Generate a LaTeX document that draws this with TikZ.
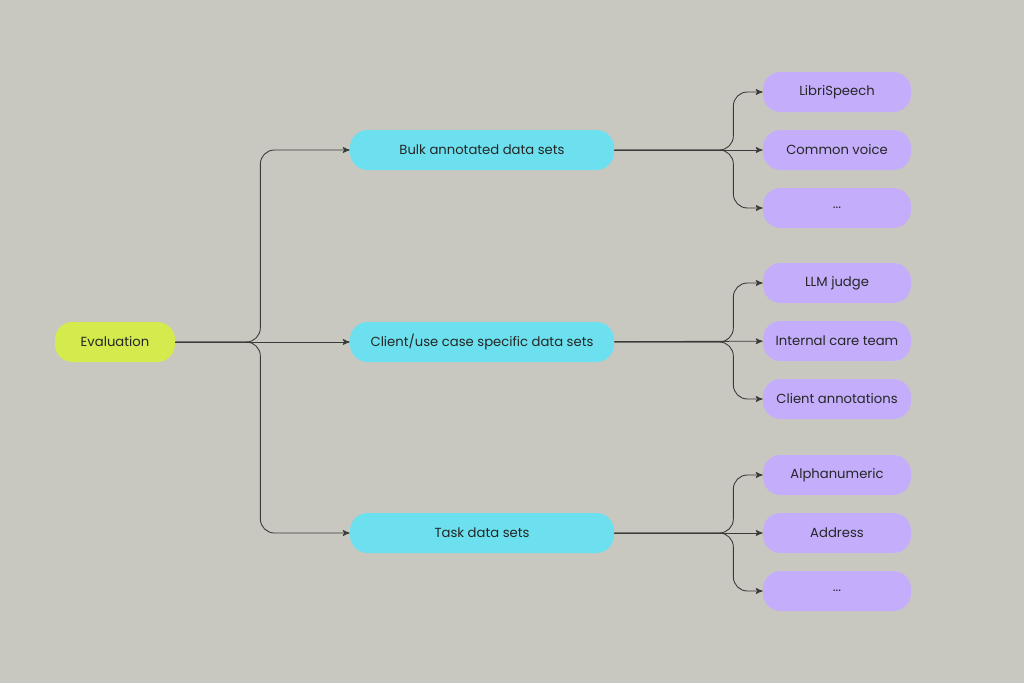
\documentclass[tikz,border=0pt]{standalone}
\usepackage{fontspec}
\setmainfont{Poppins}
\usetikzlibrary{arrows}
\definecolor{bgcol}{HTML}{C9C8C0}
\definecolor{evalcol}{HTML}{D5EA4C}
\definecolor{setcol}{HTML}{6CE0EE}
\definecolor{leafcol}{HTML}{C4AEFC}
\definecolor{linecol}{HTML}{3A3A3A}
\tikzset{
  pill/.style={rounded corners=10pt, minimum height=40*0.02cm, inner sep=0pt, font=\fontsize{7.5}{9}\selectfont, text=black!85},
  evalbox/.style={pill, fill=evalcol, minimum width=120*0.02cm},
  setbox/.style={pill, fill=setcol, minimum width=264*0.02cm},
  leafbox/.style={pill, fill=leafcol, minimum width=148*0.02cm},
  link/.style={draw=linecol, line width=0.5pt, ->, >=stealth', rounded corners=8pt}
}
\begin{document}
\begin{tikzpicture}[x=0.02cm,y=-0.02cm]
			\fill[bgcol] (0,0) rectangle (1024,683);
			\node[evalbox]  at (115,342)  (eval)  {Evaluation};
			\node[setbox]   at (482,150)  (bulk)  {Bulk annotated data sets};
			\node[setbox]   at (482,342)  (client) {Client/use case specific data sets};
			\node[setbox]   at (482,533)  (task)  {Task data sets};
			\draw[link] (eval) -- (client);
			\draw[link] (eval.east) -- ++(85,0) |- (bulk.west);
			\draw[link] (eval.east) -- ++(85,0) |- (task.west);
			% bulk leaves
			\node[leafbox]  at (837,92)   (libri)  {LibriSpeech};
			\node[leafbox]  at (837,150)  (common) {Common voice};
			\node[leafbox]  at (837,208)  (bmore)  {...};
			\draw[link] (bulk) -- (common);
			\draw[link] (bulk.east) -- ++(119,0) |- (libri.west);
			\draw[link] (bulk.east) -- ++(119,0) |- (bmore.west);
			% client leaves
			\node[leafbox]  at (837,283)  (judge)  {LLM judge};
			\node[leafbox]  at (837,341)  (care)   {Internal care team};
			\node[leafbox]  at (837,399)  (annot)  {Client annotations};
			\draw[link] (client) -- (care);
			\draw[link] (client.east) -- ++(119,0) |- (judge.west);
			\draw[link] (client.east) -- ++(119,0) |- (annot.west);
			% task leaves
			\node[leafbox]  at (837,475)  (alpha)  {Alphanumeric};
			\node[leafbox]  at (837,533)  (addr)   {Address};
			\node[leafbox]  at (837,591)  (tmore)  {...};
			\draw[link] (task) -- (addr);
			\draw[link] (task.east) -- ++(119,0) |- (alpha.west);
			\draw[link] (task.east) -- ++(119,0) |- (tmore.west);
		\end{tikzpicture}
\end{document}
